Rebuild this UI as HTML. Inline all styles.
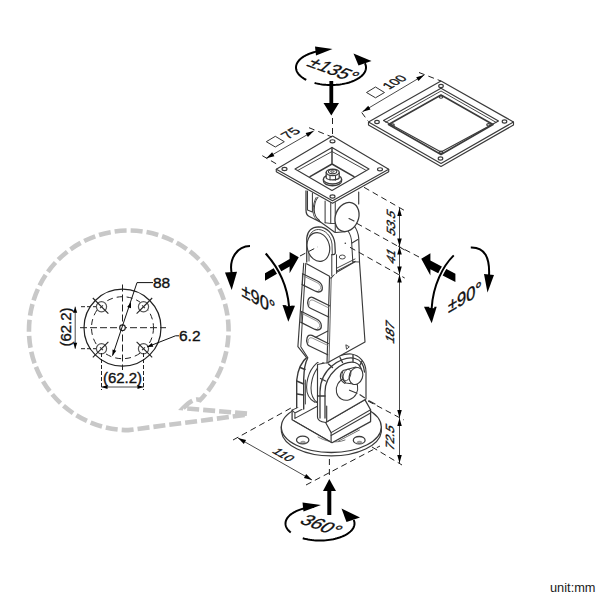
<!DOCTYPE html>
<html><head><meta charset="utf-8"><style>
html,body{margin:0;padding:0;background:#fff;width:600px;height:600px;overflow:hidden}
svg{display:block}
text{font-family:"Liberation Sans",sans-serif;fill:#111;stroke:#111;stroke-width:0.35px}
</style></head><body>
<svg width="600" height="600" viewBox="0 0 600 600">
<rect width="600" height="600" fill="#fff"/>
<path d="M441,81 L513.5,122 L513.5,125 L441,166.5 L368.5,125 L368.5,122Z" fill="#fff" stroke="#3a3a3a" stroke-width="1.15" stroke-linejoin="round" stroke-linecap="round"/>
<path d="M368.5,122 L441,163.5 L513.5,122" fill="none" stroke="#3a3a3a" stroke-width="1.15" stroke-linejoin="round" stroke-linecap="round"/>
<path d="M441,88.3 L498.5,121 L441,152 L383.5,120.5Z" fill="none" stroke="#3a3a3a" stroke-width="1.15" stroke-linejoin="round" stroke-linecap="round"/>
<path d="M385.8,122.2 L441,91 L496,122.3" fill="none" stroke="#3a3a3a" stroke-width="0.92" stroke-linejoin="round" stroke-linecap="round"/>
<path d="M441,95 L493,124.5 L441,154.5 L388.5,124.5Z" fill="none" stroke="#3a3a3a" stroke-width="1.61" stroke-linejoin="round" stroke-linecap="round"/>
<ellipse cx="441" cy="86" rx="2.3" ry="1.6" transform="rotate(0 441 86)" fill="none" stroke="#3a3a3a" stroke-width="1.15"/>
<ellipse cx="504.5" cy="121.5" rx="2.3" ry="1.6" transform="rotate(0 504.5 121.5)" fill="none" stroke="#3a3a3a" stroke-width="1.15"/>
<ellipse cx="440.5" cy="158.5" rx="2.3" ry="1.6" transform="rotate(0 440.5 158.5)" fill="none" stroke="#3a3a3a" stroke-width="1.15"/>
<ellipse cx="377" cy="122" rx="2.3" ry="1.6" transform="rotate(0 377 122)" fill="none" stroke="#3a3a3a" stroke-width="1.15"/>
<ellipse cx="441" cy="97" rx="1.8" ry="1.2" transform="rotate(0 441 97)" fill="none" stroke="#3a3a3a" stroke-width="1.15"/>
<ellipse cx="488.5" cy="124.8" rx="1.8" ry="1.2" transform="rotate(0 488.5 124.8)" fill="none" stroke="#3a3a3a" stroke-width="1.15"/>
<ellipse cx="441" cy="152.2" rx="1.8" ry="1.2" transform="rotate(0 441 152.2)" fill="none" stroke="#3a3a3a" stroke-width="1.15"/>
<ellipse cx="392.5" cy="125" rx="1.8" ry="1.2" transform="rotate(0 392.5 125)" fill="none" stroke="#3a3a3a" stroke-width="1.15"/>
<path d="M281.3,427 L281.5,432 A50,25.5 0 0 0 381.3,432 L381.3,427" fill="#fff" stroke="#3a3a3a" stroke-width="1.26" stroke-linejoin="round" stroke-linecap="round"/>
<ellipse cx="331.3" cy="427" rx="50" ry="25.5" transform="rotate(0 331.3 427)" fill="#fff" stroke="#3a3a3a" stroke-width="1.26"/>
<ellipse cx="302.7" cy="440" rx="6.2" ry="3.9" transform="rotate(0 302.7 440)" fill="none" stroke="#3a3a3a" stroke-width="1.26"/>
<path d="M301,442.5 A2.2,1.3 0 0 1 305,442.5" fill="none" stroke="#999" stroke-width="1.84" stroke-linejoin="round" stroke-linecap="round"/>
<ellipse cx="359.2" cy="440.2" rx="5.9" ry="3.7" transform="rotate(0 359.2 440.2)" fill="none" stroke="#3a3a3a" stroke-width="1.26"/>
<path d="M357.5,442.5 A2.2,1.3 0 0 1 361.5,442.5" fill="none" stroke="#999" stroke-width="1.84" stroke-linejoin="round" stroke-linecap="round"/>
<path d="M318,437 C325,441 335,444 345,440 M336,440.5 L358,429 M338.5,441 L359.5,430" fill="none" stroke="#666" stroke-width="0.92" stroke-linejoin="round" stroke-linecap="round"/>
<path d="M292.1,410.1 L299,406.9 L317,397 L366,399 L370.6,408 L370.6,421.6 L332,442.7 L330.2,441.8 L292.1,419.8 Z" fill="#fff" stroke="none" stroke-width="1.15" stroke-linejoin="round" stroke-linecap="round"/>
<path d="M292.1,410.1 L292.1,419.8 L330.2,441.8 L332,442.7 L370.6,421.6 L370.6,409.8 L365,399.9" fill="none" stroke="#3a3a3a" stroke-width="1.26" stroke-linejoin="round" stroke-linecap="round"/>
<path d="M294.4,421 L329.7,441.2" fill="none" stroke="#3a3a3a" stroke-width="0.92" stroke-linejoin="round" stroke-linecap="round"/>
<path d="M292.1,410.1 L299,406.9 M292.1,410.1 L294.9,413 L294.9,418.4 M294.9,413 L317,401.5 M294.9,418.4 L316.9,406.5" fill="none" stroke="#3a3a3a" stroke-width="1.03" stroke-linejoin="round" stroke-linecap="round"/>
<path d="M325.6,422.5 L331.1,432.6 L331.1,442.2" fill="none" stroke="#3a3a3a" stroke-width="1.15" stroke-linejoin="round" stroke-linecap="round"/>
<path d="M325.6,422.5 L365,399.9 M331.1,432.6 L370.6,409.8 M331.1,435.5 L370.6,413" fill="none" stroke="#3a3a3a" stroke-width="1.03" stroke-linejoin="round" stroke-linecap="round"/>
<path d="M296.7,407 L296.7,380.3 C297.5,372 301,362 307.8,356.4 L324,356 L324,400 L303.7,410 Z" fill="#fff" stroke="none" stroke-width="1.15" stroke-linejoin="round" stroke-linecap="round"/>
<path d="M296.7,407.5 L296.7,380.3 C297.5,372 301,362 307.8,356.4" fill="none" stroke="#3a3a3a" stroke-width="1.38" stroke-linejoin="round" stroke-linecap="round"/>
<path d="M303.7,409 L303.7,379 C304,370 305,363 307.5,358.5" fill="none" stroke="#3a3a3a" stroke-width="1.38" stroke-linejoin="round" stroke-linecap="round"/>
<path d="M305.4,404 L305.4,380" fill="none" stroke="#3a3a3a" stroke-width="0.92" stroke-linejoin="round" stroke-linecap="round"/>
<path d="M300.2,367.5 L305,369.5 M296.7,381 L303.7,384 M297,394 L303.7,395" fill="none" stroke="#3a3a3a" stroke-width="1.38" stroke-linejoin="round" stroke-linecap="round"/>
<path d="M323.5,358.5 C313,364 307,374 306.6,387.3 C306.5,394 309,399 314.5,402" fill="none" stroke="#3a3a3a" stroke-width="1.03" stroke-linejoin="round" stroke-linecap="round"/>
<path d="M326,360.5 C317,366 311.5,376 311,388 C311,395 313,399.5 317.2,402.5" fill="none" stroke="#3a3a3a" stroke-width="1.03" stroke-linejoin="round" stroke-linecap="round"/>
<path d="M308,356.3 C313,354.5 319,354 324,356.5 L327,359.5" fill="none" stroke="#3a3a3a" stroke-width="1.03" stroke-linejoin="round" stroke-linecap="round"/>
<path d="M314.5,402 L317.2,402.5" fill="none" stroke="#3a3a3a" stroke-width="0.92" stroke-linejoin="round" stroke-linecap="round"/>
<path d="M317.5,417 L317.5,364.5 L327.5,362.5 C334,357 344,353.5 351,354 C359,355 366,362 366,372 L366,399 L325.6,422.5 C321,422 317.5,420 317.5,417 Z" fill="#fff" stroke="#3a3a3a" stroke-width="1.15" stroke-linejoin="round" stroke-linecap="round"/>
<path d="M320,418 L320,392 C320,382 324.5,372 332.5,365.5 C340.5,359.5 349,357 355,358.5 C361,360 364,366 364.5,372" fill="none" stroke="#3a3a3a" stroke-width="1.26" stroke-linejoin="round" stroke-linecap="round"/>
<path d="M325,418 L325,392 C325,384 328.5,376 335.5,369.5 C342.5,363.5 350,361.5 355,362.5 C359,364 361.5,368 362,372" fill="none" stroke="#3a3a3a" stroke-width="1.26" stroke-linejoin="round" stroke-linecap="round"/>
<path d="M328.5,364 L332.5,367.5 M340,357.5 L342.5,362.5 M353,355 L353,361.5 M362,361 L359.5,366 M320.5,378.5 L325.5,381 M317.5,396 L325,396" fill="none" stroke="#3a3a3a" stroke-width="1.38" stroke-linejoin="round" stroke-linecap="round"/>
<ellipse cx="347" cy="389" rx="11.5" ry="10.5" transform="rotate(-60 347 389)" fill="none" stroke="#3a3a3a" stroke-width="1.03"/>
<path d="M349.5,390.2 L357,393.2 M360,394.7 L364.5,397.7 M369,400.7 L375,404" fill="none" stroke="#3a3a3a" stroke-width="1.15" stroke-linejoin="round" stroke-linecap="round"/>
<path d="M343,370.5 C341,374 342,380 346,383 L357,384.5 L356,367 Z" fill="#fff" stroke="#3a3a3a" stroke-width="1.15" stroke-linejoin="round" stroke-linecap="round"/>
<path d="M342,371.5 C339,375 340,381 345,383.5" fill="none" stroke="#3a3a3a" stroke-width="1.03" stroke-linejoin="round" stroke-linecap="round"/>
<ellipse cx="356" cy="376" rx="6.6" ry="8.7" transform="rotate(20 356 376)" fill="#fff" stroke="#3a3a3a" stroke-width="1.15"/>
<ellipse cx="347" cy="375" rx="3.5" ry="6" transform="rotate(20 347 375)" fill="none" stroke="#3a3a3a" stroke-width="0.80"/>
<path d="M326.7,421.5 L326.7,406" fill="none" stroke="#3a3a3a" stroke-width="1.15" stroke-linejoin="round" stroke-linecap="round"/>
<path d="M303.7,263.3 L297.9,346.7 L305.8,356.7 L318,362 L328,362.5 L365,342 L359.5,262 L335,273.3 L329.5,276.3 Z" fill="#fff" stroke="none" stroke-width="1.15" stroke-linejoin="round" stroke-linecap="round"/>
<path d="M303.7,263.3 L297.9,346.7 L305.8,356.7" fill="none" stroke="#3a3a3a" stroke-width="1.15" stroke-linejoin="round" stroke-linecap="round"/>
<path d="M305.75,263.3 L300.8,346.7 L307.9,357.9" fill="none" stroke="#3a3a3a" stroke-width="1.03" stroke-linejoin="round" stroke-linecap="round"/>
<path d="M329.5,278 L327,363.3" fill="none" stroke="#3a3a3a" stroke-width="1.15" stroke-linejoin="round" stroke-linecap="round"/>
<path d="M331.2,278 L329,362" fill="none" stroke="#3a3a3a" stroke-width="0.80" stroke-linejoin="round" stroke-linecap="round"/>
<path d="M359.5,262 L365,342 L328,362.5" fill="none" stroke="#3a3a3a" stroke-width="1.15" stroke-linejoin="round" stroke-linecap="round"/>
<path d="M306.6,263.75 L329.5,276.25 L329.5,278 L331.2,278 L335,273.3 L355,261.7" fill="none" stroke="#3a3a3a" stroke-width="1.15" stroke-linejoin="round" stroke-linecap="round"/>
<path d="M346.2,345 L349.3,346.8 L346.8,349 Z" fill="none" stroke="#3a3a3a" stroke-width="0.92" stroke-linejoin="round" stroke-linecap="round"/>
<path d="M302.5,273.8 L317.5,281 C323.5,284 324,291.5 318.5,292 C317,292 316.5,291.6 315.5,291.2 L302.2,284.6" fill="none" stroke="#3a3a3a" stroke-width="1.26" stroke-linejoin="round" stroke-linecap="round"/>
<path d="M302.5,274.5 L302.2,284.6" fill="none" stroke="#3a3a3a" stroke-width="0.92" stroke-linejoin="round" stroke-linecap="round"/>
<path d="M304,276.2 L317,282.6 C321.5,285 322,290 318.5,290.3" fill="none" stroke="#777" stroke-width="0.80" stroke-linejoin="round" stroke-linecap="round"/>
<path d="M328.5,307.8 L313.2,300.2 C309.8,298.8 308.5,303 309.2,305" fill="none" stroke="#777" stroke-width="0.80" stroke-linejoin="round" stroke-linecap="round"/>
<path d="M303,314 L316,320.6 C320.5,323 321,328 317.5,328.3" fill="none" stroke="#777" stroke-width="0.80" stroke-linejoin="round" stroke-linecap="round"/>
<path d="M328,345.5 L312.2,338 C308.8,336.6 307.5,340.8 308.2,342.8" fill="none" stroke="#777" stroke-width="0.80" stroke-linejoin="round" stroke-linecap="round"/>
<path d="M329.5,305.8 L313,297.6 C308,295.5 306.5,303 308.5,306.5 C309.2,307.6 310,308 311,308.5 L328.7,317" fill="none" stroke="#3a3a3a" stroke-width="1.26" stroke-linejoin="round" stroke-linecap="round"/>
<path d="M301.5,311.5 L316.5,319 C322.5,322 323,329.5 317.5,330 C316,330 315.5,329.6 314.5,329.2 L301,322.4" fill="none" stroke="#3a3a3a" stroke-width="1.26" stroke-linejoin="round" stroke-linecap="round"/>
<path d="M301.5,312 L301,322.4" fill="none" stroke="#3a3a3a" stroke-width="0.92" stroke-linejoin="round" stroke-linecap="round"/>
<path d="M328.3,343.5 L312,335.4 C307,333.3 305.5,340.8 307.5,344.3 C308.2,345.4 309,345.8 310,346.3 L327.7,354.8" fill="none" stroke="#3a3a3a" stroke-width="1.26" stroke-linejoin="round" stroke-linecap="round"/>
<path d="M315.3,337.5 L327.8,331" fill="none" stroke="#3a3a3a" stroke-width="1.03" stroke-linejoin="round" stroke-linecap="round"/>
<path d="M306.75,263.5 L306.75,240 C307,232 311,227 318,226.8 C326,227 333,233 334.5,241 L335.5,253.5 L336.5,254.7 L336.5,273.3 L331.8,275.7 L306.75,261.7 Z" fill="#fff" stroke="none" stroke-width="1.15" stroke-linejoin="round" stroke-linecap="round"/>
<path d="M306.75,262 L306.75,238 C307.5,231 312,226.8 318.5,226.8 C327,227 333.5,234 334.8,243 L335.3,252.5 C335.3,254 334.3,254.7 333,254.7 L331.8,254.7" fill="none" stroke="#3a3a3a" stroke-width="1.26" stroke-linejoin="round" stroke-linecap="round"/>
<path d="M309,261 L309,239 C309.5,233 313.5,229.5 318.5,229.5 C325.5,229.8 331,236 332,244 L332.3,254.5" fill="none" stroke="#3a3a3a" stroke-width="0.92" stroke-linejoin="round" stroke-linecap="round"/>
<ellipse cx="318.4" cy="247" rx="11.1" ry="14.6" transform="rotate(-14 318.4 247)" fill="#fff" stroke="#3a3a3a" stroke-width="1.15"/>
<path d="M331.8,254.7 L331.8,275.7 M336.5,254.7 L336.5,273.3" fill="none" stroke="#3a3a3a" stroke-width="1.03" stroke-linejoin="round" stroke-linecap="round"/>
<path d="M354,225.5 C356.5,229 358.3,233 358.7,238 L359.5,262" fill="none" stroke="#3a3a3a" stroke-width="1.15" stroke-linejoin="round" stroke-linecap="round"/>
<path d="M348.2,231.3 C350.5,234.5 351.5,238 351.7,243 L352.8,261.7" fill="none" stroke="#3a3a3a" stroke-width="1.03" stroke-linejoin="round" stroke-linecap="round"/>
<path d="M352,243 L357.8,239.5" fill="none" stroke="#3a3a3a" stroke-width="1.03" stroke-linejoin="round" stroke-linecap="round"/>
<ellipse cx="342.3" cy="257" rx="3" ry="2" transform="rotate(0 342.3 257)" fill="none" stroke="#3a3a3a" stroke-width="0.92"/>
<path d="M336.5,268.3 L355,259 M336.5,271 L355,261.5 M352.8,261.7 L359.5,262" fill="none" stroke="#3a3a3a" stroke-width="0.92" stroke-linejoin="round" stroke-linecap="round"/>
<circle cx="345.3" cy="243.3" r="0.8" fill="#333"/>
<path d="M306,191 L306,210 C306,214 307.5,216 309.75,216.75 L320.25,222 L333,231 L345,232 L358.7,204 L358.7,192 L332,203 Z" fill="#fff" stroke="none" stroke-width="1.15" stroke-linejoin="round" stroke-linecap="round"/>
<path d="M306,191 L306,210 C306,214 307.5,216 309.75,216.75 L320.25,222" fill="none" stroke="#3a3a3a" stroke-width="1.26" stroke-linejoin="round" stroke-linecap="round"/>
<path d="M307.5,191 L307.5,210 L312.4,211.9 M312.4,193 L312.4,211.9" fill="none" stroke="#3a3a3a" stroke-width="1.03" stroke-linejoin="round" stroke-linecap="round"/>
<path d="M318,197.25 C316,199.5 314.3,205 314.25,210 C314.3,214 316,218 319.5,220.5" fill="none" stroke="#3a3a3a" stroke-width="1.03" stroke-linejoin="round" stroke-linecap="round"/>
<path d="M316.1,197.5 C314,201 313,207 313.1,211.5 C313.3,216 315.2,219.5 319.5,221.3" fill="none" stroke="#3a3a3a" stroke-width="0.92" stroke-linejoin="round" stroke-linecap="round"/>
<path d="M325.1,201 L325.1,222.75 M330.75,202.5 L330.75,223.5 M335.25,202.5 L335.25,231.5" fill="none" stroke="#3a3a3a" stroke-width="1.03" stroke-linejoin="round" stroke-linecap="round"/>
<path d="M325.1,222.75 L330.75,223.5 L335.25,223.5" fill="none" stroke="#3a3a3a" stroke-width="0.92" stroke-linejoin="round" stroke-linecap="round"/>
<path d="M319.5,221.3 L333,231 C334,232 335,232.5 336,232.5 L345,231.75" fill="none" stroke="#3a3a3a" stroke-width="1.15" stroke-linejoin="round" stroke-linecap="round"/>
<ellipse cx="347" cy="217" rx="11.5" ry="15" transform="rotate(22 347 217)" fill="#fff" stroke="#3a3a3a" stroke-width="1.26"/>
<path d="M358.7,192 L358.7,204" fill="none" stroke="#3a3a3a" stroke-width="1.15" stroke-linejoin="round" stroke-linecap="round"/>
<path d="M349,218.5 L354,221" fill="none" stroke="#3a3a3a" stroke-width="1.15" stroke-linejoin="round" stroke-linecap="round"/>
<path d="M332.5,136 L388.7,169.3 L388.7,171.8 L332.5,203.2 L276.3,171.7 L276.3,169.2 Z" fill="#fff" stroke="#3a3a3a" stroke-width="1.15" stroke-linejoin="round" stroke-linecap="round"/>
<path d="M276.3,169.2 L332.5,200.7 L388.7,169.3" fill="none" stroke="#3a3a3a" stroke-width="1.15" stroke-linejoin="round" stroke-linecap="round"/>
<path d="M295,169 L332,147.5 L369,169 L332,190.5 Z" fill="none" stroke="#3a3a3a" stroke-width="1.15" stroke-linejoin="round" stroke-linecap="round"/>
<path d="M298.5,170 L332,151.5 L365.5,170" fill="none" stroke="#3a3a3a" stroke-width="0.92" stroke-linejoin="round" stroke-linecap="round"/>
<path d="M332,147.5 L332,164 M310,176.7 L332,164 L354,176.7" fill="none" stroke="#3a3a3a" stroke-width="1.49" stroke-linejoin="round" stroke-linecap="round"/>
<ellipse cx="332.5" cy="141.3" rx="2.5" ry="1.6" transform="rotate(0 332.5 141.3)" fill="none" stroke="#3a3a3a" stroke-width="1.15"/>
<ellipse cx="380" cy="169.3" rx="2.5" ry="1.6" transform="rotate(0 380 169.3)" fill="none" stroke="#3a3a3a" stroke-width="1.15"/>
<ellipse cx="332.5" cy="196.5" rx="2.5" ry="1.6" transform="rotate(0 332.5 196.5)" fill="none" stroke="#3a3a3a" stroke-width="1.15"/>
<ellipse cx="284.5" cy="169" rx="2.5" ry="1.6" transform="rotate(0 284.5 169)" fill="none" stroke="#3a3a3a" stroke-width="1.15"/>
<path d="M323.4,179.25 L323.4,181 A9.1,4.75 0 0 0 341.6,181 L341.6,179.25" fill="#fff" stroke="#3a3a3a" stroke-width="1.26" stroke-linejoin="round" stroke-linecap="round"/>
<ellipse cx="332.5" cy="179.25" rx="9.1" ry="4.75" transform="rotate(0 332.5 179.25)" fill="#fff" stroke="#3a3a3a" stroke-width="1.26"/>
<path d="M326.2,172.5 L326.2,178 C328,180.5 337,180.5 339.2,178 L339.2,172.5 Z" fill="#fff" stroke="#3a3a3a" stroke-width="1.26" stroke-linejoin="round" stroke-linecap="round"/>
<path d="M330,175 L330,180 M335.5,175 L335.5,180" fill="none" stroke="#3a3a3a" stroke-width="1.03" stroke-linejoin="round" stroke-linecap="round"/>
<ellipse cx="332.7" cy="172.3" rx="6.5" ry="3.2" transform="rotate(0 332.7 172.3)" fill="#fff" stroke="#3a3a3a" stroke-width="1.26"/>
<ellipse cx="332.6" cy="171.6" rx="4.2" ry="2.1" transform="rotate(0 332.6 171.6)" fill="none" stroke="#3a3a3a" stroke-width="1.03"/>
<ellipse cx="332.4" cy="171.5" rx="1.6" ry="0.8" transform="rotate(0 332.4 171.5)" fill="none" stroke="#3a3a3a" stroke-width="0.92"/>
<path d="M306.25,79.87 L305.08,79.26 L303.97,78.62 L302.93,77.95 L301.95,77.26 L301.04,76.55 L300.20,75.81 L299.43,75.05 L298.73,74.28 L298.12,73.49 L297.57,72.69 L297.11,71.87 L296.73,71.05 L296.42,70.21 L296.20,69.37 L296.06,68.53 L296.00,67.68 L296.03,66.84 L296.13,65.99 L296.32,65.15 L296.59,64.31 L296.94,63.48 L297.36,62.66 L297.87,61.85 L298.46,61.06 L299.12,60.28 L299.86,59.51 L300.67,58.77 L301.55,58.05 L302.50,57.34 L303.51,56.67 L304.60,56.01 L305.74,55.39 L306.94,54.79 L308.20,54.22 L309.51,53.69 L310.87,53.18 L312.28,52.71 L313.74,52.28 L315.23,51.88 L316.76,51.51" fill="none" stroke="#000" stroke-width="2"/>
<path d="M314.57,82.95 L316.37,83.40 L318.23,83.79 L320.13,84.13 L322.06,84.42 L324.02,84.65 L326.01,84.82 L328.01,84.94 L330.02,84.99 L332.04,84.99 L334.05,84.93 L336.05,84.82 L338.04,84.64 L340.00,84.41 L341.93,84.12 L343.83,83.78 L345.68,83.39 L347.49,82.94 L349.24,82.44 L350.92,81.89 L352.55,81.29 L354.10,80.65 L355.58,79.96 L356.97,79.23 L358.28,78.47 L359.49,77.66 L360.62,76.83 L361.64,75.96 L362.56,75.06 L363.38,74.14 L364.09,73.20 L364.69,72.24 L365.18,71.26 L365.56,70.27 L365.82,69.27 L365.97,68.26 L366.00,67.26 L365.91,66.25 L365.71,65.25 L365.39,64.25 L364.96,63.27" fill="none" stroke="#000" stroke-width="2"/>
<path d="M332.5,49 L315,46.5 L316,55.5Z" fill="#000"/>
<path d="M353.5,53.5 L358.5,65.5 L371.5,61Z" fill="#000"/>
<text x="0" y="0" font-size="21" text-anchor="middle" dominant-baseline="central" transform="matrix(0.8300,0.3100,-0.6740,0.6070,333.5,69.5)" style="">±135°</text>
<rect x="329.4" y="81" width="3.8" height="24" fill="#000"/>
<path d="M323.5,103 L339,103 L331.3,115.5Z" fill="#000"/>
<line x1="332.5" y1="118" x2="332.5" y2="137" stroke="#222" stroke-width="1" stroke-dasharray="6,4"/>
<path d="M290.74,532.51 L289.88,531.79 L289.10,531.06 L288.39,530.31 L287.75,529.54 L287.19,528.75 L286.71,527.96 L286.30,527.15 L285.98,526.34 L285.74,525.51 L285.58,524.69 L285.51,523.86 L285.51,523.03 L285.60,522.20 L285.77,521.37 L286.02,520.55 L286.36,519.73 L286.77,518.93 L287.26,518.13 L287.83,517.35 L288.48,516.59 L289.21,515.84 L290.00,515.10 L290.87,514.39 L291.81,513.70 L292.81,513.03 L293.88,512.39 L295.02,511.78 L296.21,511.19 L297.46,510.63 L298.76,510.10 L300.11,509.61 L301.51,509.15 L302.96,508.72 L304.44,508.33 L305.97,507.97 L307.52,507.65 L309.11,507.37 L310.72,507.13 L312.36,506.92 L314.01,506.76" fill="none" stroke="#000" stroke-width="2"/>
<path d="M302.75,538.22 L304.50,538.69 L306.30,539.10 L308.14,539.46 L310.03,539.77 L311.95,540.03 L313.89,540.23 L315.86,540.38 L317.83,540.47 L319.82,540.50 L321.81,540.48 L323.79,540.40 L325.75,540.26 L327.70,540.07 L329.63,539.82 L331.52,539.52 L333.37,539.17 L335.18,538.77 L336.94,538.31 L338.64,537.81 L340.28,537.25 L341.85,536.66 L343.35,536.01 L344.78,535.33 L346.12,534.61 L347.37,533.85 L348.53,533.06 L349.60,532.23 L350.57,531.38 L351.44,530.50 L352.21,529.59 L352.87,528.67 L353.42,527.73 L353.85,526.77 L354.18,525.81 L354.39,524.83 L354.49,523.86 L354.48,522.88 L354.35,521.90 L354.10,520.93 L353.75,519.97" fill="none" stroke="#000" stroke-width="2"/>
<path d="M321,505 L302.5,502.5 L303.5,511.5Z" fill="#000"/>
<path d="M341.5,508.5 L346.5,522 L360,517.5Z" fill="#000"/>
<text x="0" y="0" font-size="21" text-anchor="middle" dominant-baseline="central" transform="matrix(0.8300,0.3100,-0.6740,0.6070,321.5,525)" style="">360°</text>
<rect x="327.3" y="489" width="4" height="26" fill="#000"/>
<path d="M323,491 L336,491 L329.3,479Z" fill="#000"/>
<line x1="329.4" y1="459" x2="329.4" y2="478" stroke="#222" stroke-width="1" stroke-dasharray="6,4"/>
<line x1="238" y1="438" x2="312" y2="480" stroke="#4a4a4a" stroke-width="1"/><path d="M238.00,438.00 L246.07,439.99 L243.85,443.91Z" fill="#000"/><path d="M312.00,480.00 L303.93,478.01 L306.15,474.09Z" fill="#000"/>
<text x="0" y="0" font-size="12.5" text-anchor="middle" dominant-baseline="central" transform="matrix(0.8660,0.5000,-0.8660,0.5000,283.4,455)" style="">110</text>
<line x1="233" y1="440" x2="291" y2="408" stroke="#222" stroke-width="1" stroke-dasharray="6,4"/>
<line x1="306" y1="485" x2="380" y2="446" stroke="#222" stroke-width="1" stroke-dasharray="6,4"/>
<line x1="399.5" y1="208" x2="399.5" y2="246.5" stroke="#4a4a4a" stroke-width="1"/><path d="M399.50,208.00 L401.75,216.00 L397.25,216.00Z" fill="#000"/><path d="M399.50,246.50 L397.25,238.50 L401.75,238.50Z" fill="#000"/>
<line x1="399.5" y1="246.5" x2="399.5" y2="274.5" stroke="#4a4a4a" stroke-width="1"/><path d="M399.50,246.50 L401.75,254.50 L397.25,254.50Z" fill="#000"/><path d="M399.50,274.50 L397.25,266.50 L401.75,266.50Z" fill="#000"/>
<line x1="399.5" y1="274.5" x2="399.5" y2="418" stroke="#4a4a4a" stroke-width="1"/><path d="M399.50,274.50 L401.75,282.50 L397.25,282.50Z" fill="#000"/><path d="M399.50,418.00 L397.25,410.00 L401.75,410.00Z" fill="#000"/>
<line x1="399.5" y1="418" x2="399.5" y2="463" stroke="#4a4a4a" stroke-width="1"/><path d="M399.50,418.00 L401.75,426.00 L397.25,426.00Z" fill="#000"/><path d="M399.50,463.00 L397.25,455.00 L401.75,455.00Z" fill="#000"/>
<text x="0" y="0" font-size="12.5" text-anchor="middle" dominant-baseline="central" transform="matrix(0.0000,-1.0000,0.9500,0.5500,390.8,222.5)" style="">53.5</text>
<text x="0" y="0" font-size="12.5" text-anchor="middle" dominant-baseline="central" transform="matrix(0.0000,-1.0000,0.9500,0.5500,390.8,255.8)" style="">41</text>
<text x="0" y="0" font-size="12.5" text-anchor="middle" dominant-baseline="central" transform="matrix(0.0000,-1.0000,0.9500,0.5500,390.1,331.8)" style="">187</text>
<text x="0" y="0" font-size="12.5" text-anchor="middle" dominant-baseline="central" transform="matrix(0.0000,-1.0000,0.9500,0.5500,390,437)" style="">72.5</text>
<line x1="364" y1="187.3" x2="404.5" y2="210.5" stroke="#222" stroke-width="1" stroke-dasharray="6,4"/>
<line x1="356.7" y1="223.3" x2="404.7" y2="250" stroke="#222" stroke-width="1" stroke-dasharray="6,4"/>
<line x1="350" y1="247.3" x2="404.7" y2="278" stroke="#222" stroke-width="1" stroke-dasharray="6,4"/>
<line x1="368" y1="401" x2="404" y2="420" stroke="#222" stroke-width="1" stroke-dasharray="6,4"/>
<line x1="372" y1="447" x2="402" y2="465" stroke="#222" stroke-width="1" stroke-dasharray="6,4"/>
<line x1="266.3" y1="158.3" x2="313.7" y2="131" stroke="#4a4a4a" stroke-width="1"/><path d="M266.30,158.30 L272.11,152.36 L274.36,156.26Z" fill="#000"/><path d="M313.70,131.00 L307.89,136.94 L305.64,133.04Z" fill="#000"/>
<line x1="309" y1="127.7" x2="332" y2="137" stroke="#222" stroke-width="1" stroke-dasharray="6,4"/>
<line x1="262.3" y1="155.7" x2="278.3" y2="165" stroke="#222" stroke-width="1" stroke-dasharray="6,4"/>
<path d="M266.3,141.7 L275.3,136.3 L284.3,141.7 L275.3,147Z" fill="none" stroke="#333" stroke-width="1"/>
<text x="0" y="0" font-size="14" text-anchor="middle" dominant-baseline="central" transform="matrix(0.8660,-0.5000,0.8660,0.5000,290.5,133)" style="">75</text>
<line x1="362.5" y1="111.7" x2="424.2" y2="75" stroke="#4a4a4a" stroke-width="1"/><path d="M362.50,111.70 L368.23,105.68 L370.53,109.54Z" fill="#000"/><path d="M424.20,75.00 L418.47,81.02 L416.17,77.16Z" fill="#000"/>
<line x1="419" y1="72.5" x2="441" y2="81" stroke="#222" stroke-width="1" stroke-dasharray="6,4"/>
<line x1="361.7" y1="112.5" x2="368" y2="121" stroke="#222" stroke-width="1" stroke-dasharray="6,4"/>
<path d="M366.5,92.5 L375.5,87 L384.5,92.5 L375.5,97.8Z" fill="none" stroke="#333" stroke-width="1"/>
<text x="0" y="0" font-size="13" text-anchor="middle" dominant-baseline="central" transform="matrix(0.8660,-0.5000,0.8660,0.5000,394.5,82)" style="">100</text>
<path d="M250,246 C238,246 228,258 232,275" fill="none" stroke="#000" stroke-width="2"/>
<path d="M225,272.5 L237,271.7 L231.7,290Z" fill="#000"/>
<path d="M282.5,305 L295,305.8 L288.3,321.7Z" fill="#000"/>
<path d="M265,273.3 L289.6,259.1 L289.6,252 L298.75,257.2 L289.6,273.3 L289.6,266.6 L265,280.8Z" fill="#000"/>
<path d="M265.7,253.5 C277,266 287,284 289,306" fill="none" stroke="#fff" stroke-width="5"/>
<path d="M265.7,253.5 C277,266 287,284 289,306" fill="none" stroke="#000" stroke-width="2"/>
<text x="0" y="0" font-size="19" text-anchor="middle" dominant-baseline="central" transform="matrix(0.8660,0.5000,0.0000,1.0000,258.5,299)" style="">±90°</text>
<line x1="300" y1="256" x2="318" y2="246.7" stroke="#222" stroke-width="1" stroke-dasharray="6,4"/>
<path d="M470.8,247.5 C485,247 490,258 489,276" fill="none" stroke="#000" stroke-width="2"/>
<path d="M484,274 L494,275 L487.5,292.5Z" fill="#000"/>
<path d="M424,306.7 L436.7,306.7 L431.7,323.3Z" fill="#000"/>
<path d="M455.4,273.75 L430.4,260.4 L430.4,253.3 L421.25,258.8 L430.4,275.4 L430.4,269.2 L455.4,282.1Z" fill="#000"/>
<path d="M453.75,255.4 C443,266 433,285 431.7,308" fill="none" stroke="#fff" stroke-width="5"/>
<path d="M453.75,255.4 C443,266 433,285 431.7,308" fill="none" stroke="#000" stroke-width="2"/>
<text x="0" y="0" font-size="19" text-anchor="middle" dominant-baseline="central" transform="matrix(0.8660,-0.5000,0.0000,1.0000,465,297)" style="">±90°</text>
<line x1="419" y1="257" x2="398" y2="246" stroke="#222" stroke-width="1" stroke-dasharray="6,4"/>
<path d="M247,413.6 L183.1,408.2 C189,402 195,398 200.2,400 A99.8,99.8 0 1 0 128.4,430.1 L247,414.7" fill="none" stroke="#c8c8c8" stroke-width="4.6" stroke-dasharray="12,4"/>
<circle cx="122.5" cy="327.7" r="38.5" fill="none" stroke="#222" stroke-width="1.2"/>
<circle cx="122.5" cy="327.7" r="31" fill="none" stroke="#222" stroke-width="1" stroke-dasharray="6,4"/>
<line x1="80" y1="327.7" x2="166" y2="327.7" stroke="#222" stroke-width="1" stroke-dasharray="7,3"/>
<line x1="122.5" y1="284.5" x2="122.5" y2="370" stroke="#222" stroke-width="1" stroke-dasharray="7,3"/>
<circle cx="122.5" cy="327.7" r="2.8" fill="#fff" stroke="#222" stroke-width="1.2"/>
<circle cx="101.5" cy="306.7" r="5.1" fill="#fff" stroke="#555" stroke-width="1.2"/>
<line x1="108.36" y1="313.56" x2="92.80" y2="298.00" stroke="#222" stroke-width="1.1"/>
<line x1="102.91" y1="305.29" x2="100.09" y2="308.11" stroke="#333" stroke-width="1.1"/>
<circle cx="101.5" cy="348.7" r="5.1" fill="#fff" stroke="#555" stroke-width="1.2"/>
<line x1="108.36" y1="341.84" x2="92.80" y2="357.40" stroke="#222" stroke-width="1.1"/>
<line x1="100.09" y1="347.29" x2="102.91" y2="350.11" stroke="#333" stroke-width="1.1"/>
<circle cx="143.5" cy="306.7" r="5.1" fill="#fff" stroke="#555" stroke-width="1.2"/>
<line x1="136.64" y1="313.56" x2="152.20" y2="298.00" stroke="#222" stroke-width="1.1"/>
<line x1="144.91" y1="308.11" x2="142.09" y2="305.29" stroke="#333" stroke-width="1.1"/>
<circle cx="143.5" cy="348.7" r="5.1" fill="#fff" stroke="#555" stroke-width="1.2"/>
<line x1="136.64" y1="341.84" x2="152.20" y2="357.40" stroke="#222" stroke-width="1.1"/>
<line x1="142.09" y1="350.11" x2="144.91" y2="347.29" stroke="#333" stroke-width="1.1"/>
<line x1="81" y1="306.7" x2="96" y2="306.7" stroke="#222" stroke-width="1" stroke-dasharray="4,2"/>
<line x1="81" y1="348.7" x2="96" y2="348.7" stroke="#222" stroke-width="1" stroke-dasharray="4,2"/>
<line x1="101.5" y1="353" x2="101.5" y2="390" stroke="#222" stroke-width="1" stroke-dasharray="4,2"/>
<line x1="143.5" y1="353" x2="143.5" y2="390" stroke="#222" stroke-width="1" stroke-dasharray="4,2"/>
<line x1="75.2" y1="306.7" x2="75.2" y2="348.7" stroke="#4a4a4a" stroke-width="1"/><path d="M75.20,306.70 L77.20,312.70 L73.20,312.70Z" fill="#000"/><path d="M75.20,348.70 L73.20,342.70 L77.20,342.70Z" fill="#000"/>
<line x1="101.5" y1="387" x2="143.5" y2="387" stroke="#4a4a4a" stroke-width="1"/><path d="M101.50,387.00 L107.50,385.00 L107.50,389.00Z" fill="#000"/><path d="M143.50,387.00 L137.50,389.00 L137.50,385.00Z" fill="#000"/>
<text x="65.5" y="327" font-size="15" text-anchor="middle" dominant-baseline="central" transform="rotate(-90 65.5 327)" style="">(62.2)</text>
<text x="122.5" y="377.5" font-size="15" text-anchor="middle" dominant-baseline="central" transform="rotate(0 122.5 377.5)" style="">(62.2)</text>
<path d="M153,282.6 L137,282.6 L112.5,355.7" fill="none" stroke="#111" stroke-width="1"/>
<path d="M112.50,355.70 L112.51,349.38 L116.30,350.65Z" fill="#000"/>
<path d="M131.00,302.00 L131.00,308.32 L127.21,307.06Z" fill="#000"/>
<text x="153" y="282.5" font-size="15.5" text-anchor="start" dominant-baseline="central" transform="rotate(0 153 282.5)" style="">88</text>
<path d="M179,335.8 L175.5,335.8 L147,347" fill="none" stroke="#111" stroke-width="1"/>
<path d="M147.00,347.00 L151.85,342.94 L153.32,346.67Z" fill="#000"/>
<text x="179" y="335.5" font-size="15.5" text-anchor="start" dominant-baseline="central" transform="rotate(0 179 335.5)" style="">6.2</text>
<text x="550" y="591.7" font-size="12.8" style="fill:#1a1a1a;stroke:none">unit:mm</text>
</svg>
</body></html>
